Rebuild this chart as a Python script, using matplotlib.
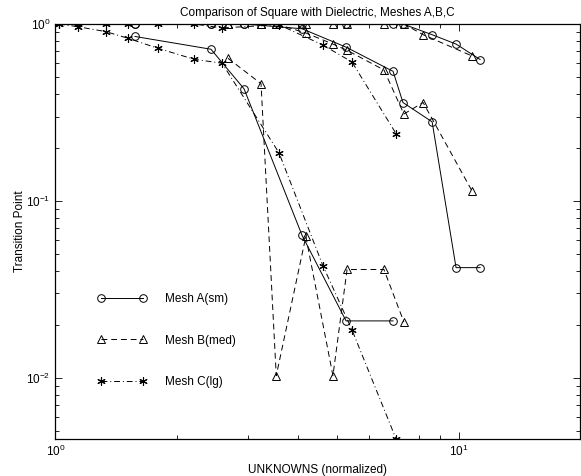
import numpy as np
import matplotlib
matplotlib.use('Agg')
import matplotlib.pyplot as plt

plt.rcParams['font.family'] = ['Liberation Sans', 'DejaVu Sans']
plt.rcParams['font.size'] = 8.5
plt.rcParams['mathtext.fontset'] = 'custom'
plt.rcParams['mathtext.rm'] = 'Liberation Sans'

# normalized unknowns for each mesh
x_a = [1.575, 2.431, 2.937, 4.09, 5.26, 6.88, 7.28, 8.60, 9.86, 11.31]
x_b = [2.68, 3.236, 3.53, 4.18, 4.88, 5.29, 6.53, 7.32, 8.17, 10.80]
x_c = [1.02, 1.137, 1.335, 1.513, 1.796, 2.207, 2.59, 3.586, 4.61, 5.44, 7.0]

# transition points
a_left = [0.85, 0.72, 0.43, 0.064, 0.021, 0.021]
a_mid = [1, 1, 1, 0.94, 0.74, 0.54, 0.36, 0.28, 0.042, 0.042]
a_right = [1, 1, 1, 1, 1, 1, 1, 0.87, 0.77, 0.63]

b_left = [0.64, 0.46, 0.0103, 0.063, 0.0103, 0.041, 0.041, 0.0207]
b_mid = [1, 1, 1, 0.89, 0.77, 0.71, 0.55, 0.31, 0.36, 0.114]
b_right = [1, 1, 1, 1, 1, 1, 1, 1, 0.87, 0.66]

c_left = [1, 0.965, 0.905, 0.83, 0.729, 0.632, 0.60, 0.187, 0.043, 0.0187, 0.00452]
c_mid = [1, 1, 1, 1, 1, 1, 0.95, 0.99, 0.76, 0.61, 0.24]

title = 'Comparison of Square with Dielectric, Meshes A,B,C'
labels = ['Mesh A(sm)', 'Mesh B(med)', 'Mesh C(lg)']

asterisk = (6, 2, 0)

fig = plt.figure(figsize=(5.81, 4.76), dpi=100)
ax = fig.add_axes([0.0955, 0.0771, 0.9025, 0.8725])

sa = dict(color='k', lw=0.7, ls='-', marker='o', ms=5.5, mfc='none', mew=0.7)
sb = dict(color='k', lw=0.7, ls=(0, (6, 4)), marker='^', ms=6, mfc='none', mew=0.7)
sc = dict(color='k', lw=0.7, ls=(0, (6, 3, 1, 3)), marker=asterisk, ms=6, mew=0.8)

ha, = ax.plot(x_a[:len(a_left)], a_left, **sa)
ax.plot(x_a, a_mid, **sa)
ax.plot(x_a, a_right, **sa)

hb, = ax.plot(x_b[:len(b_left)], b_left, **sb)
ax.plot(x_b, b_mid, **sb)
ax.plot(x_b, b_right, **sb)

hc, = ax.plot(x_c, c_left, **sc)
ax.plot(x_c, c_mid, **sc)

ax.set_xscale('log')
ax.set_yscale('log')
ax.set_xlim(1, 20)
ax.set_ylim(0.0045, 1)

ax.tick_params(which='both', direction='in', top=True, right=True, width=0.6)
ax.tick_params(which='major', length=5)
ax.tick_params(which='minor', length=3)
for s in ax.spines.values():
    s.set_linewidth(0.9)

ax.set_title(title, fontsize=8.5, pad=6)
ax.set_xlabel('UNKNOWNS (normalized)', labelpad=3)
ax.set_ylabel('Transition Point', labelpad=0)

ax.legend([ha, hb, hc], labels, loc='upper left', bbox_to_anchor=(0.08, 0.352),
          frameon=False, numpoints=2, handlelength=4.2, handletextpad=1.5,
          labelspacing=2.5, borderpad=0, borderaxespad=0)

plt.savefig('out.png', dpi=100)
